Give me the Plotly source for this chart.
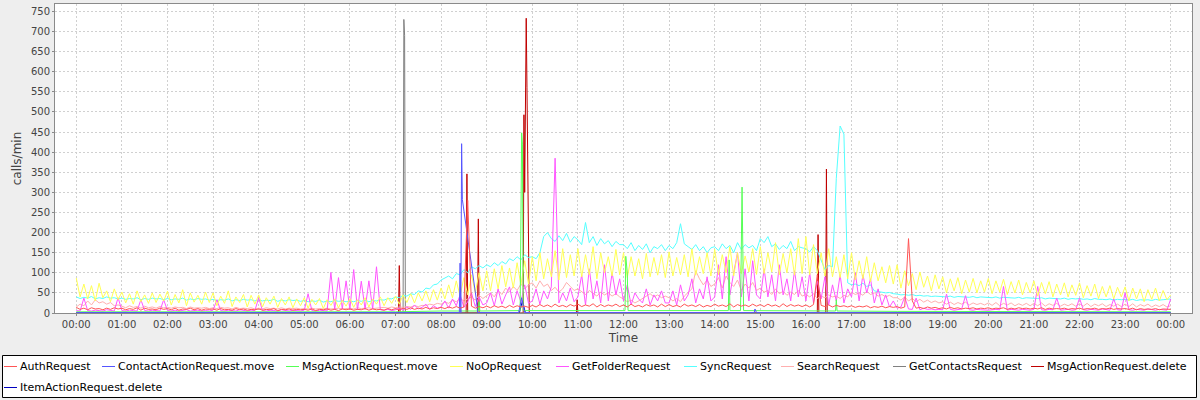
import pandas as pd
import plotly.graph_objects as go

DAY = "2024-01-01"

# ---------------- data (calls/min) ----------------
series_names = ["AuthRequest", "ContactActionRequest.move", "MsgActionRequest.move",
                "NoOpRequest", "GetFolderRequest", "SyncRequest", "SearchRequest",
                "GetContactsRequest", "MsgActionRequest.delete", "ItemActionRequest.delete"]
series_colors = ["#FF5555", "#5555FF", "#55FF55", "#FFFF55", "#FF55FF", "#55FFFF",
                 "#FFAFAF", "#808080", "#C00000", "#0000C0"]

# dense series: one value every 5 minutes, 00:00 .. 24:00 (12 per hour + final)
auth = [
    14, 9, 12, 8, 13, 10, 11, 8, 12, 9, 13, 10,
    12, 8, 11, 9, 13, 7, 12, 9, 10, 8, 12, 9,
    11, 8, 12, 7, 10, 9, 12, 8, 11, 7, 10, 9,
    10, 7, 11, 8, 9, 7, 11, 8, 10, 7, 9, 8,
    10, 7, 9, 8, 11, 6, 9, 8, 10, 7, 9, 8,
    9, 7, 10, 6, 9, 8, 10, 7, 9, 6, 10, 8,
    10, 7, 9, 8, 11, 7, 10, 8, 9, 7, 11, 8,
    11, 8, 12, 9, 13, 9, 12, 10, 14, 10, 13, 11,
    14, 11, 15, 12, 16, 12, 15, 280, 17, 12, 16, 13,
    17, 13, 18, 14, 17, 13, 19, 14, 18, 15, 17, 14,
    19, 15, 21, 16, 20, 15, 22, 16, 19, 15, 21, 17,
    22, 16, 20, 17, 23, 15, 21, 16, 20, 17, 22, 16,
    20, 15, 22, 16, 19, 15, 21, 17, 20, 15, 22, 16,
    21, 16, 19, 15, 22, 17, 20, 16, 21, 15, 19, 16,
    22, 17, 20, 16, 23, 15, 21, 17, 20, 16, 22, 17,
    21, 16, 22, 17, 20, 15, 23, 16, 21, 17, 20, 16,
    20, 15, 21, 95, 19, 16, 20, 15, 19, 16, 18, 15,
    18, 14, 17, 15, 18, 13, 16, 14, 17, 13, 16, 14,
    16, 12, 15, 185, 30, 12, 14, 11, 15, 12, 14, 11,
    13, 10, 14, 11, 13, 10, 12, 11, 13, 10, 12, 11,
    13, 10, 12, 11, 13, 9, 12, 10, 13, 11, 12, 10,
    12, 10, 13, 9, 12, 10, 11, 10, 12, 9, 11, 10,
    12, 9, 11, 10, 12, 9, 11, 10, 12, 9, 11, 10,
    11, 9, 12, 8, 11, 9, 10, 9, 11, 8, 10, 9,
    9]

noop = [
    87, 40, 72, 35, 68, 30, 74, 38, 55, 28, 60, 33,
    52, 25, 48, 22, 55, 28, 45, 24, 50, 26, 47, 30,
    54, 20, 46, 25, 58, 18, 50, 27, 44, 22, 52, 26,
    50, 18, 42, 24, 55, 16, 40, 26, 46, 15, 44, 22,
    45, 15, 38, 22, 42, 14, 36, 20, 40, 13, 35, 18,
    38, 12, 34, 20, 36, 11, 33, 19, 35, 13, 32, 17,
    36, 14, 33, 20, 38, 15, 35, 22, 40, 18, 38, 24,
    42, 22, 45, 26, 48, 25, 50, 30, 55, 28, 58, 32,
    62, 35, 70, 38, 80, 42, 88, 45, 95, 50, 100, 55,
    105, 55, 110, 60, 118, 65, 112, 62, 125, 70, 130, 72,
    140, 80, 150, 85, 135, 90, 155, 82, 160, 88, 145, 92,
    160, 90, 145, 95, 165, 85, 150, 100, 140, 92, 158, 95,
    150, 88, 140, 92, 135, 85, 148, 90, 138, 94, 145, 88,
    152, 92, 138, 95, 145, 90, 160, 94, 140, 98, 150, 92,
    158, 95, 145, 100, 165, 92, 150, 98, 142, 102, 160, 96,
    165, 98, 150, 102, 175, 95, 148, 100, 160, 94, 185, 98,
    190, 95, 170, 98, 150, 92, 160, 90, 140, 88, 145, 85,
    150, 82, 130, 85, 140, 78, 125, 80, 115, 75, 118, 72,
    120, 62, 105, 68, 98, 58, 102, 64, 92, 55, 95, 60,
    90, 50, 85, 55, 88, 48, 82, 52, 86, 50, 80, 52,
    86, 48, 80, 52, 84, 46, 78, 50, 82, 45, 76, 50,
    80, 42, 76, 48, 78, 40, 72, 45, 75, 40, 70, 44,
    75, 38, 68, 42, 72, 36, 66, 40, 68, 35, 64, 40,
    65, 30, 62, 35, 60, 28, 58, 34, 62, 30, 56, 33,
    45]

getfolder = [
    6, 5, 37, 6, 5, 7, 6, 5, 8, 6, 5, 38,
    6, 5, 7, 6, 5, 33, 6, 5, 7, 6, 5, 33,
    6, 5, 7, 5, 6, 8, 5, 6, 7, 5, 6, 5,
    7, 33, 6, 5, 7, 6, 5, 8, 6, 5, 7, 6,
    38, 6, 5, 7, 6, 5, 8, 6, 5, 7, 6, 5,
    7, 48, 6, 5, 7, 6, 5, 101, 9, 88, 10, 80,
    9, 108, 8, 79, 9, 80, 10, 115, 8, 7, 9, 6,
    8, 12, 7, 15, 9, 20, 10, 14, 22, 9, 18, 12,
    15, 30, 12, 35, 18, 45, 14, 28, 50, 16, 40, 20,
    25, 50, 18, 60, 22, 45, 65, 20, 55, 28, 70, 24,
    30, 60, 22, 55, 35, 65, 385, 25, 50, 30, 62, 28,
    40, 95, 20, 110, 35, 80, 25, 120, 30, 100, 45, 85,
    30, 70, 20, 50, 35, 25, 60, 20, 45, 30, 55, 25,
    25, 55, 20, 70, 30, 45, 85, 25, 60, 35, 90, 30,
    40, 120, 35, 140, 45, 100, 150, 40, 110, 30, 130, 45,
    35, 110, 40, 95, 30, 120, 45, 85, 30, 105, 40, 90,
    30, 100, 25, 80, 35, 90, 20, 70, 30, 95, 25, 60,
    40, 100, 30, 95, 50, 85, 25, 60, 20, 45, 15, 30,
    12, 15, 40, 10, 9, 37, 8, 12, 9, 10, 8, 9,
    8, 47, 9, 7, 8, 10, 43, 8, 7, 9, 8, 7,
    7, 8, 9, 8, 66, 7, 9, 8, 7, 9, 8, 7,
    9, 66, 8, 7, 9, 8, 37, 7, 8, 9, 7, 8,
    37, 8, 7, 9, 8, 7, 10, 8, 7, 35, 8, 7,
    50, 8, 7, 9, 8, 7, 10, 8, 7, 9, 8, 7,
    35]

sync = [
    40, 36, 39, 37, 41, 35, 38, 36, 40, 37, 38, 35,
    37, 34, 36, 35, 38, 33, 36, 34, 37, 35, 36, 33,
    36, 33, 35, 34, 37, 32, 35, 33, 36, 34, 35, 32,
    34, 31, 33, 32, 35, 30, 33, 31, 34, 32, 33, 30,
    33, 30, 32, 31, 34, 29, 32, 30, 33, 31, 32, 29,
    31, 28, 30, 29, 32, 27, 30, 28, 31, 29, 30, 28,
    30, 28, 31, 29, 32, 28, 31, 30, 33, 32, 36, 35,
    40, 38, 44, 42, 48, 46, 55, 52, 62, 60, 70, 72,
    82, 88, 92, 85, 98, 95, 108, 100, 115, 110, 118, 112,
    120, 115, 125, 118, 128, 122, 135, 130, 140, 132, 145, 138,
    140, 135, 150, 190, 200, 185, 178, 192, 180, 198, 176, 190,
    182, 170, 225, 175, 190, 168, 185, 172, 180, 165, 178, 170,
    170, 160, 175, 155, 168, 158, 172, 150, 165, 160, 170, 155,
    168, 160, 175, 222, 172, 165, 158, 170, 155, 165, 150, 162,
    165, 155, 172, 160, 168, 150, 175, 158, 170, 162, 168, 155,
    185, 175, 190, 165, 172, 158, 168, 160, 178, 155, 165, 162,
    160, 152, 165, 155, 132, 108, 118, 115, 335, 465, 445, 75,
    70, 72, 68, 74, 66, 70, 55, 53, 52, 50, 51, 48,
    47, 45, 46, 44, 46, 43, 44, 42, 43, 41, 42, 41,
    41, 40, 42, 39, 41, 40, 40, 39, 41, 38, 40, 39,
    39, 38, 40, 37, 39, 38, 38, 37, 39, 36, 38, 37,
    37, 36, 38, 35, 37, 36, 36, 35, 37, 34, 36, 35,
    36, 34, 35, 33, 36, 34, 34, 33, 35, 32, 34, 33,
    34, 32, 34, 31, 33, 32, 33, 31, 34, 32, 33, 34,
    35]

search = [
    15, 22, 18, 30, 20, 33, 25, 28, 22, 26, 18, 20,
    17, 13, 18, 14, 16, 12, 17, 13, 15, 12, 16, 13,
    14, 12, 15, 13, 14, 11, 15, 12, 13, 12, 14, 11,
    13, 11, 14, 12, 13, 10, 14, 11, 12, 11, 13, 10,
    12, 10, 13, 11, 12, 10, 13, 10, 12, 11, 12, 10,
    11, 10, 12, 10, 11, 10, 12, 10, 11, 12, 10, 11,
    12, 10, 13, 11, 12, 13, 11, 12, 13, 14, 12, 15,
    13, 15, 14, 16, 15, 18, 16, 19, 18, 22, 20, 24,
    22, 27, 24, 32, 28, 36, 30, 34, 40, 32, 44, 36,
    42, 50, 40, 56, 46, 62, 52, 66, 56, 72, 60, 70,
    75, 62, 80, 66, 72, 56, 64, 52, 60, 76, 66, 56,
    60, 52, 46, 56, 48, 42, 52, 45, 50, 42, 48, 40,
    35, 28, 32, 25, 30, 36, 42, 48, 40, 45, 38, 42,
    38, 30, 36, 28, 42, 50, 60, 105, 85, 70, 82, 66,
    72, 88, 62, 92, 76, 66, 82, 56, 72, 62, 76, 56,
    62, 52, 56, 46, 60, 48, 54, 44, 52, 46, 56, 42,
    46, 40, 48, 36, 42, 38, 45, 40, 42, 36, 44, 40,
    52, 46, 50, 44, 54, 46, 50, 42, 46, 40, 44, 38,
    38, 32, 40, 30, 36, 28, 34, 27, 32, 26, 30, 25,
    28, 22, 27, 21, 26, 22, 27, 20, 25, 21, 24, 20,
    25, 19, 26, 18, 24, 20, 25, 18, 23, 19, 24, 18,
    24, 18, 25, 17, 23, 19, 24, 17, 22, 18, 23, 17,
    23, 17, 24, 16, 22, 18, 23, 16, 21, 17, 22, 16,
    22, 16, 23, 15, 21, 17, 22, 15, 20, 16, 21, 15,
    18]

# sparse series: (time, value) samples
contact_move_t = ["00:00", "08:24", "08:25", "08:26", "08:27", "08:28", "08:47", "08:48",
                  "09:42", "09:46", "09:50", "14:52", "14:53", "14:55", "24:00"]
contact_move_v = [1, 1, 124, 1, 421, 282, 25, 1, 1, 38, 1, 1, 10, 1, 1]

msg_move_t = ["00:00", "07:00", "08:00", "08:49", "08:50", "08:51", "09:44", "09:45",
              "09:46", "09:47", "09:48", "12:02", "12:03", "12:05", "12:06", "14:18",
              "14:19", "14:20", "14:34", "14:36", "14:37", "14:38", "16:39", "16:40",
              "16:41", "18:00", "24:00"]
msg_move_v = [3, 3, 5, 5, 28, 5, 6, 300, 448, 420, 6, 6, 141, 100, 6, 6,
              132, 6, 6, 313, 200, 6, 5, 33, 5, 4, 3]

get_contacts_t = ["00:00", "07:10", "07:11", "07:12", "07:13", "24:00"]
get_contacts_v = [0, 0, 730, 690, 0, 0]

msg_delete_t = ["00:00", "07:04", "07:05", "07:06", "08:33", "08:34", "08:35", "08:48",
                "08:49", "08:50", "09:48", "09:49", "09:50", "09:52", "09:53", "09:55",
                "09:56", "10:58", "10:59", "11:00", "16:15", "16:16", "16:17", "16:26",
                "16:27", "16:28", "24:00"]
msg_delete_v = [0, 0, 118, 0, 0, 346, 0, 0, 234, 0, 0, 493, 300, 733, 560, 112,
                0, 0, 33, 0, 0, 195, 0, 0, 358, 0, 0]

item_delete_t = ["00:00", "09:43", "09:47", "09:51", "24:00"]
item_delete_v = [0, 0, 30, 0, 0]

y_ticks = list(range(0, 751, 50))

# ---------------- build ----------------
base = pd.Timestamp(DAY)
grid = pd.date_range(DAY, periods=289, freq="5min")


def to_time(labels):
    out = []
    for s in labels:
        h, m = s.split(":")
        out.append(base + pd.Timedelta(hours=int(h), minutes=int(m)))
    return out


xs = [grid, to_time(contact_move_t), to_time(msg_move_t), grid, grid, grid, grid,
      to_time(get_contacts_t), to_time(msg_delete_t), to_time(item_delete_t)]
ys = [auth, contact_move_v, msg_move_v, noop, getfolder, sync, search,
      get_contacts_v, msg_delete_v, item_delete_v]

fig = go.Figure()
# JFreeChart draws the last series first, so the first series ends up on top
for i in reversed(range(len(series_names))):
    fig.add_trace(go.Scatter(x=xs[i], y=ys[i], mode="lines", name=series_names[i],
                             line=dict(color=series_colors[i], width=1),
                             showlegend=False, hoverinfo="x+y+name"))

PL, PR, PT, PB = 55, 1192, 4, 313


def px2x(px):
    return (px - PL) / (PR - PL)


def py2y(py):
    return (PB - py) / (PB - PT)


shapes = [dict(type="rect", xref="paper", yref="paper",
               x0=px2x(2.5), x1=px2x(1196.5), y0=py2y(397.5), y1=py2y(355.5),
               line=dict(color="#000000", width=1), fillcolor="#ffffff", layer="below")]
annotations = []
legend_text_x = [20, 118, 302, 466, 572, 700, 797, 909, 1047, 20]
legend_row_y = [366, 366, 366, 366, 366, 366, 366, 366, 366, 387]
for i, name in enumerate(series_names):
    tx, ty = legend_text_x[i], legend_row_y[i]
    shapes.append(dict(type="line", xref="paper", yref="paper",
                       x0=px2x(tx - 16), x1=px2x(tx - 3), y0=py2y(ty + 0.5), y1=py2y(ty + 0.5),
                       line=dict(color=series_colors[i], width=1)))
    annotations.append(dict(xref="paper", yref="paper", x=px2x(tx - 1), y=py2y(ty),
                            xanchor="left", yanchor="middle", text=name, showarrow=False,
                            font=dict(family="DejaVu Sans", size=11, color="#000000"),
                            borderpad=0))

tick_font = dict(family="DejaVu Sans", size=10, color="#444444")
title_font = dict(family="DejaVu Sans", size=12, color="#444444")

fig.update_layout(
    width=1200, height=400,
    margin=dict(l=PL, r=1200 - PR, t=PT, b=400 - PB, pad=0),
    paper_bgcolor="#eeeeee", plot_bgcolor="#ffffff",
    shapes=shapes, annotations=annotations, showlegend=False,
    xaxis=dict(
        type="date",
        range=[base - pd.Timedelta(minutes=28), base + pd.Timedelta(hours=24, minutes=28)],
        tickmode="linear", tick0=base, dtick=3600000, tickformat="%H:%M",
        showgrid=True, gridcolor="#d0d0d0", griddash="2px,2px", gridwidth=1,
        showline=True, linecolor="#8a8a8a", linewidth=1, mirror=True,
        ticks="outside", ticklen=2, tickcolor="#8a8a8a",
        tickfont=tick_font, zeroline=False, automargin=False,
        title=dict(text="Time", font=title_font, standoff=4),
    ),
    yaxis=dict(
        range=[0, 768.4], tickmode="array", tickvals=y_ticks,
        showgrid=True, gridcolor="#d0d0d0", griddash="2px,2px", gridwidth=1,
        showline=True, linecolor="#8a8a8a", linewidth=1, mirror=True,
        ticks="outside", ticklen=2, tickcolor="#8a8a8a",
        tickfont=tick_font, zeroline=False, automargin=False,
        title=dict(text="calls/min", font=title_font, standoff=6),
    ),
)

fig.write_html(
    "out.html",
    config={"displayModeBar": False},
    post_script="document.body.style.margin='0';document.body.style.background='#eeeeee';",
)
